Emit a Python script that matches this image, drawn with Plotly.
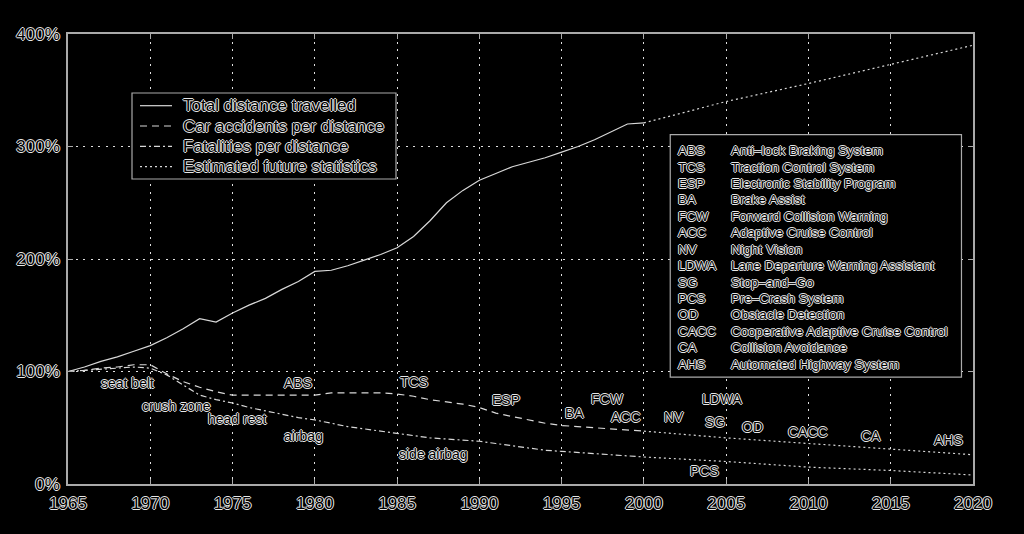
import plotly.graph_objects as go

# ---------------- data ----------------
years_hist = list(range(1965, 2001))
total_distance = [100, 104, 109, 113, 118, 123, 130, 138, 147, 144, 152, 159, 165, 173, 180, 189,
                  190, 194, 199, 204, 210, 220, 234, 250, 261, 270, 276, 282, 286, 290, 295,
                  300, 306, 313, 320, 321]
car_accidents = [100, 101, 103, 104, 106, 106, 98, 91, 86, 82, 79, 79, 79, 79, 79, 79,
                 81, 81, 81, 81, 80, 78, 75, 73, 71, 68, 63, 60, 57, 54, 52,
                 51, 50, 49, 48, 47]
fatalities = [100, 101, 102, 103, 104, 103, 97, 88, 79, 75, 72, 68, 65, 62, 59, 57,
              54, 51, 49, 47, 45, 43, 41, 40, 39, 38, 36, 34, 32, 30, 29,
              28, 27, 26, 25, 24]

years_future = [2000, 2005, 2010, 2015, 2020]
total_future = [321, 340, 356, 373, 390]
accidents_future = [47, 41, 36, 31, 26]
fatalities_future = [24, 20, 15, 12, 8]

series_names = ["Total distance travelled", "Car accidents per distance",
                "Fatalities per distance", "Estimated future statistics"]

event_labels = ["seat belt", "crush zone", "head rest", "ABS", "airbag", "TCS", "side airbag",
                "ESP", "BA", "FCW", "ACC", "NV", "LDWA", "SG", "PCS", "OD", "CACC", "CA", "AHS"]
event_x = [1968.6, 1971.6, 1975.3, 1979.0, 1979.3, 1986.0, 1987.2,
           1991.6, 1995.8, 1997.8, 1998.9, 2001.8, 2004.8, 2004.3, 2003.7, 2006.6, 2010.0, 2013.8, 2018.5]
event_y = [90, 69, 58, 90, 43, 91, 27,
           75, 63, 76, 60, 60, 76, 55, 12, 51, 46, 43, 39]

abbrevs = ["ABS", "TCS", "ESP", "BA", "FCW", "ACC", "NV", "LDWA", "SG", "PCS", "OD", "CACC", "CA", "AHS"]
descriptions = ["Anti\u2013lock Braking System", "Traction Control System", "Electronic Stability Program",
                "Brake Assist", "Forward Collision Warning", "Adaptive Cruise Control", "Night Vision",
                "Lane Departure Warning Assistant", "Stop\u2013and\u2013Go", "Pre\u2013Crash System",
                "Obstacle Detection", "Cooperative Adaptive Cruise Control", "Collision Avoidance",
                "Automated Highway System"]

x_ticks = [1965, 1970, 1975, 1980, 1985, 1990, 1995, 2000, 2005, 2010, 2015, 2020]
y_ticks = [0, 100, 200, 300, 400]
y_tick_text = ["0%", "100%", "200%", "300%", "400%"]

# ---------------- style ----------------
LINE = "#d8d8d8"
FONT = "Liberation Sans, Arial, sans-serif"
OUTLINE = "1px 0 0 #e6e6e6, -1px 0 0 #e6e6e6, 0 1px 0 #e6e6e6, 0 -1px 0 #e6e6e6"
DASHES = ["solid", "7px,5px", "6px,3px,2px,3px", "2px,3px"]
LW = 1.2


def tfont(size):
    return dict(family=FONT, size=size, color="#000000", shadow=OUTLINE)


fig = go.Figure()
fig.add_trace(go.Scatter(x=years_hist, y=total_distance, mode="lines", name=series_names[0],
                         line=dict(color=LINE, width=LW, dash=DASHES[0])))
fig.add_trace(go.Scatter(x=years_hist, y=car_accidents, mode="lines", name=series_names[1],
                         line=dict(color=LINE, width=LW, dash=DASHES[1])))
fig.add_trace(go.Scatter(x=years_hist, y=fatalities, mode="lines", name=series_names[2],
                         line=dict(color=LINE, width=LW, dash=DASHES[2])))
for fy in (total_future, accidents_future, fatalities_future):
    fig.add_trace(go.Scatter(x=years_future, y=fy, mode="lines", name=series_names[3],
                             line=dict(color=LINE, width=LW, dash=DASHES[3])))

annotations = []
shapes = []

for lab, ex, ey in zip(event_labels, event_x, event_y):
    annotations.append(dict(x=ex, y=ey, xref="x", yref="y", text=lab, showarrow=False,
                            font=tfont(14), xanchor="center", yanchor="middle"))


# ---- line legend (custom, paper coords from pixel layout: plot x 68..973, y 34..484)
def px(xp):
    return (xp - 68) / 905.0


def py(yp):
    return (484 - yp) / 450.0


shapes.append(dict(type="rect", xref="paper", yref="paper", x0=px(132), x1=px(396),
                   y0=py(179), y1=py(93), line=dict(color="#aaaaaa", width=1.2),
                   fillcolor="#000000", layer="above"))
for i, (nm, ds) in enumerate(zip(series_names, DASHES)):
    yy = py(105.7 + i * 20.3)
    shapes.append(dict(type="line", xref="paper", yref="paper", x0=px(140), x1=px(172),
                       y0=yy, y1=yy, line=dict(color=LINE, width=LW, dash=ds), layer="above"))
    annotations.append(dict(x=px(181), y=yy, xref="paper", yref="paper", text=nm, showarrow=False,
                            font=tfont(17), xanchor="left", yanchor="middle"))

# ---- acronym box
box_x0, box_x1, box_y0, box_y1 = 2001.6, 2019.3, 95, 310.5
row_top, row_step = 296.3, 14.6
col_abbr, col_desc = 2001.95, 2005.2
shapes.append(dict(type="rect", xref="x", yref="y", x0=box_x0, x1=box_x1, y0=box_y0, y1=box_y1,
                   line=dict(color="#aaaaaa", width=1.2), fillcolor="#000000", layer="above"))
for i, (a, d) in enumerate(zip(abbrevs, descriptions)):
    yy = row_top - i * row_step
    annotations.append(dict(x=col_abbr, y=yy, xref="x", yref="y", text=a, showarrow=False,
                            font=tfont(13.4), xanchor="left", yanchor="middle"))
    annotations.append(dict(x=col_desc, y=yy, xref="x", yref="y", text=d, showarrow=False,
                            font=tfont(13.4), xanchor="left", yanchor="middle"))

axis_common = dict(showline=True, linecolor="#aaaaaa", linewidth=1.5, mirror="ticks",
                   ticks="inside", ticklen=5, tickcolor="#aaaaaa",
                   showgrid=True, gridcolor="#e0e0e0", gridwidth=1.3, griddash="2px,5.5px",
                   zeroline=False, tickfont=tfont(17))

fig.update_layout(
    width=1024, height=534,
    paper_bgcolor="#000000", plot_bgcolor="#000000",
    margin=dict(l=68, r=51, t=34, b=50),
    xaxis=dict(range=[1965, 2020], tickvals=x_ticks, ticklabelstandoff=3, **axis_common),
    yaxis=dict(range=[0, 400], tickvals=y_ticks, ticktext=y_tick_text, ticklabelstandoff=3,
               **axis_common),
    annotations=annotations,
    shapes=shapes,
    showlegend=False,
)

fig.write_html("out.html")
